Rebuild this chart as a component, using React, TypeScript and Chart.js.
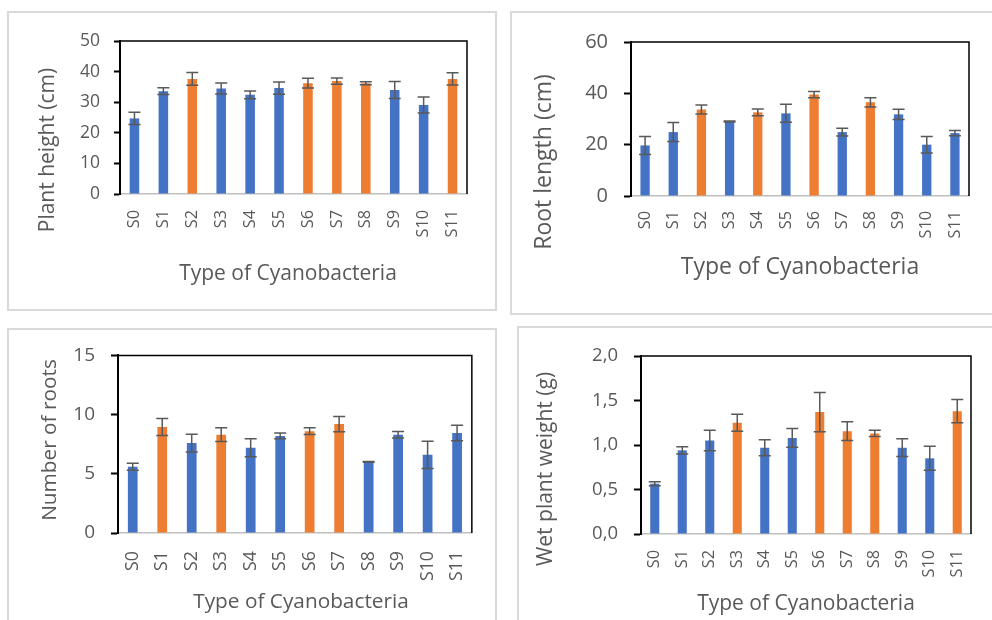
import React, { useEffect, useRef } from "react";
import { Chart, registerables } from "chart.js";

Chart.register(...registerables);

// ---------- data ----------
const categories = ["S0", "S1", "S2", "S3", "S4", "S5", "S6", "S7", "S8", "S9", "S10", "S11"];

const plantHeight = [24.7, 33.6, 37.6, 34.5, 32.4, 34.6, 36.2, 36.9, 36.2, 34.0, 29.1, 37.6];
const plantHeightErr = [2.0, 1.1, 2.1, 1.8, 1.3, 2.0, 1.6, 1.0, 0.5, 2.8, 2.6, 2.0];
const plantHeightHighlighted = ["S2", "S6", "S7", "S8", "S11"];
const plantHeightTicks = [0, 10, 20, 30, 40, 50];

const rootLength = [19.7, 24.9, 33.7, 29.0, 32.6, 32.2, 39.5, 24.9, 36.5, 31.8, 20.0, 24.5];
const rootLengthErr = [3.5, 3.7, 1.8, 0.2, 1.3, 3.5, 1.2, 1.5, 1.8, 2.0, 3.2, 1.0];
const rootLengthHighlighted = ["S2", "S4", "S6", "S8"];
const rootLengthTicks = [0, 20, 40, 60];

const rootCount = [5.6, 8.95, 7.6, 8.3, 7.2, 8.2, 8.6, 9.2, 6.0, 8.3, 6.6, 8.45];
const rootCountErr = [0.3, 0.72, 0.75, 0.58, 0.75, 0.25, 0.28, 0.65, 0.03, 0.28, 1.15, 0.65];
const rootCountHighlighted = ["S1", "S3", "S6", "S7"];
const rootCountTicks = [0, 5, 10, 15];

const wetWeight = [0.565, 0.94, 1.05, 1.25, 0.97, 1.08, 1.37, 1.155, 1.13, 0.97, 0.85, 1.38];
const wetWeightErr = [0.022, 0.04, 0.115, 0.095, 0.09, 0.105, 0.22, 0.105, 0.035, 0.1, 0.135, 0.13];
const wetWeightHighlighted = ["S3", "S6", "S7", "S8", "S11"];
const wetWeightTicks = [0, 0.5, 1.0, 1.5, 2.0];
const wetWeightTickLabels = ["0,0", "0,5", "1,0", "1,5", "2,0"];

const xAxisTitle = "Type of Cyanobacteria";

// ---------- styles ----------
const BLUE = "#4472C4";
const ORANGE = "#ED7D31";
const TEXT = "#595959";
const ERR = "#595959";
const FONT = "'Open Sans', 'Noto Sans', sans-serif";

type Panel = {
  values: number[];
  errors: number[];
  highlighted: string[];
  ticks: number[];
  tickLabels?: string[];
  yTitle: string;
  box: { left: number; top: number; width: number; height: number };
  area: { left: number; top: number; right: number; bottom: number };
  yTitlePos: { x: number; y: number };
  xTitlePos: { x: number; y: number };
  yTickFont: number;
  xTickFont: number;
  titleFont: number;
  yTickPad: number;
  xTickPad: number;
  tickLen: number;
};

const panels: Panel[] = [
  {
    values: plantHeight, errors: plantHeightErr, highlighted: plantHeightHighlighted,
    ticks: plantHeightTicks, yTitle: "Plant height (cm)",
    box: { left: 7, top: 11, width: 490, height: 300 },
    area: { left: 120, top: 41, right: 467, bottom: 194 },
    yTitlePos: { x: 48, y: 150 }, xTitlePos: { x: 288, y: 274 },
    yTickFont: 17.5, xTickFont: 16.3, titleFont: 21, yTickPad: 14, xTickPad: 16, tickLen: 6,
  },
  {
    values: rootLength, errors: rootLengthErr, highlighted: rootLengthHighlighted,
    ticks: rootLengthTicks, yTitle: "Root length (cm)",
    box: { left: 510, top: 11, width: 490, height: 304 },
    area: { left: 631, top: 42, right: 969, bottom: 196 },
    yTitlePos: { x: 544, y: 162 }, xTitlePos: { x: 800, y: 267 },
    yTickFont: 20, xTickFont: 16.3, titleFont: 23, yTickPad: 16, xTickPad: 15, tickLen: 7,
  },
  {
    values: rootCount, errors: rootCountErr, highlighted: rootCountHighlighted,
    ticks: rootCountTicks, yTitle: "Number of roots",
    box: { left: 7, top: 328, width: 490, height: 300 },
    area: { left: 118, top: 343, right: 484, bottom: 533 },
    yTitlePos: { x: 50, y: 440 }, xTitlePos: { x: 301, y: 602 },
    yTickFont: 19, xTickFont: 17.8, titleFont: 20.8, yTickPad: 16, xTickPad: 18, tickLen: 7,
  },
  {
    values: wetWeight, errors: wetWeightErr, highlighted: wetWeightHighlighted,
    ticks: wetWeightTicks, tickLabels: wetWeightTickLabels, yTitle: "Wet plant weight (g)",
    box: { left: 517, top: 326, width: 490, height: 300 },
    area: { left: 641, top: 356, right: 971, bottom: 534 },
    yTitlePos: { x: 546, y: 469 }, xTitlePos: { x: 806, y: 604 },
    yTickFont: 18.5, xTickFont: 16.3, titleFont: 21, yTickPad: 16, xTickPad: 16, tickLen: 7,
  },
];

function makeChart(canvas: HTMLCanvasElement, p: Panel) {
  const errorBars = {
    id: "errorBars",
    afterDatasetsDraw(chart: any) {
      const { ctx } = chart;
      const xs = chart.scales.x;
      const ys = chart.scales.y;
      ctx.save();
      ctx.strokeStyle = ERR;
      ctx.lineWidth = 1.5;
      p.values.forEach((v, i) => {
        const x = xs.getPixelForValue(i);
        const yt = ys.getPixelForValue(v + p.errors[i]);
        const yb = ys.getPixelForValue(v - p.errors[i]);
        ctx.beginPath();
        ctx.moveTo(x, yt);
        ctx.lineTo(x, yb);
        ctx.moveTo(x - 6, yt);
        ctx.lineTo(x + 6, yt);
        ctx.moveTo(x - 6, yb);
        ctx.lineTo(x + 6, yb);
        ctx.stroke();
      });
      ctx.restore();
    },
  };

  const frameAndTitles = {
    id: "frameAndTitles",
    afterDraw(chart: any) {
      const { ctx, chartArea: a } = chart;
      ctx.save();
      ctx.strokeStyle = "#000";
      ctx.lineWidth = 1.5;
      ctx.beginPath();
      ctx.moveTo(a.left, a.top);
      ctx.lineTo(a.right, a.top);
      ctx.lineTo(a.right, a.bottom);
      ctx.stroke();

      ctx.fillStyle = TEXT;
      ctx.font = `${p.titleFont}px ${FONT}`;
      ctx.textAlign = "center";
      ctx.textBaseline = "middle";
      ctx.fillText(xAxisTitle, p.xTitlePos.x - p.box.left, p.xTitlePos.y - p.box.top);
      ctx.translate(p.yTitlePos.x - p.box.left, p.yTitlePos.y - p.box.top);
      ctx.rotate(-Math.PI / 2);
      ctx.fillText(p.yTitle, 0, 0);
      ctx.restore();
    },
  };

  const yMin = p.ticks[0];
  const yMax = p.ticks[p.ticks.length - 1];
  const step = p.ticks[1] - p.ticks[0];

  return new Chart(canvas, {
    type: "bar",
    data: {
      labels: categories,
      datasets: [
        {
          data: p.values,
          backgroundColor: categories.map((c) => (p.highlighted.includes(c) ? ORANGE : BLUE)),
          borderWidth: 0,
          barPercentage: 0.33,
          categoryPercentage: 1,
        },
      ],
    },
    options: {
      animation: false,
      responsive: false,
      devicePixelRatio: 1,
      layout: {
        padding: {
          left: 0,
          top: p.area.top - p.box.top,
          right: p.box.left + p.box.width - p.area.right,
          bottom: 0,
        },
      },
      plugins: { legend: { display: false }, tooltip: { enabled: false } },
      scales: {
        x: {
          grid: { display: false, drawTicks: false },
          border: { display: true, color: "#BFBFBF", width: 1.5 },
          ticks: {
            color: TEXT,
            font: { family: FONT, size: p.xTickFont },
            minRotation: 90,
            maxRotation: 90,
            padding: p.xTickPad,
            autoSkip: false,
          },
          afterFit: (s: any) => {
            s.height = p.box.top + p.box.height - p.area.bottom;
          },
        },
        y: {
          min: yMin,
          max: yMax,
          grid: {
            display: true,
            drawOnChartArea: false,
            drawTicks: true,
            tickLength: p.tickLen,
            tickColor: "#000",
            tickWidth: 2,
          },
          border: { display: true, color: "#000", width: 2 },
          ticks: {
            stepSize: step,
            color: TEXT,
            padding: p.yTickPad,
            font: { family: FONT, size: p.yTickFont },
            callback: (v: any) => {
              const idx = p.ticks.findIndex((t) => Math.abs(t - Number(v)) < 1e-9);
              if (idx < 0) return "";
              return p.tickLabels ? p.tickLabels[idx] : String(p.ticks[idx]);
            },
          },
          afterFit: (s: any) => {
            s.width = p.area.left - p.box.left;
          },
        },
      },
    },
    plugins: [errorBars, frameAndTitles],
  } as any);
}

function PanelChart({ p }: { p: Panel }) {
  const ref = useRef<HTMLCanvasElement>(null);
  useEffect(() => {
    if (!ref.current) return;
    const chart = makeChart(ref.current, p);
    return () => chart.destroy();
  }, [p]);
  return (
    <>
      <div
        style={{
          position: "absolute",
          left: p.box.left,
          top: p.box.top,
          width: p.box.width,
          height: p.box.height,
          border: "2px solid #D9D9D9",
          boxSizing: "border-box",
          background: "#fff",
        }}
      />
      <canvas
        ref={ref}
        width={p.box.width}
        height={p.box.height}
        style={{
          position: "absolute",
          left: p.box.left,
          top: p.box.top,
          width: p.box.width,
          height: p.box.height,
        }}
      />
    </>
  );
}

export default function App() {
  return (
    <div
      style={{
        position: "absolute",
        left: 0,
        top: 0,
        width: 992,
        height: 620,
        overflow: "hidden",
        background: "#fff",
      }}
    >
      {panels.map((p, i) => (
        <PanelChart key={i} p={p} />
      ))}
    </div>
  );
}
